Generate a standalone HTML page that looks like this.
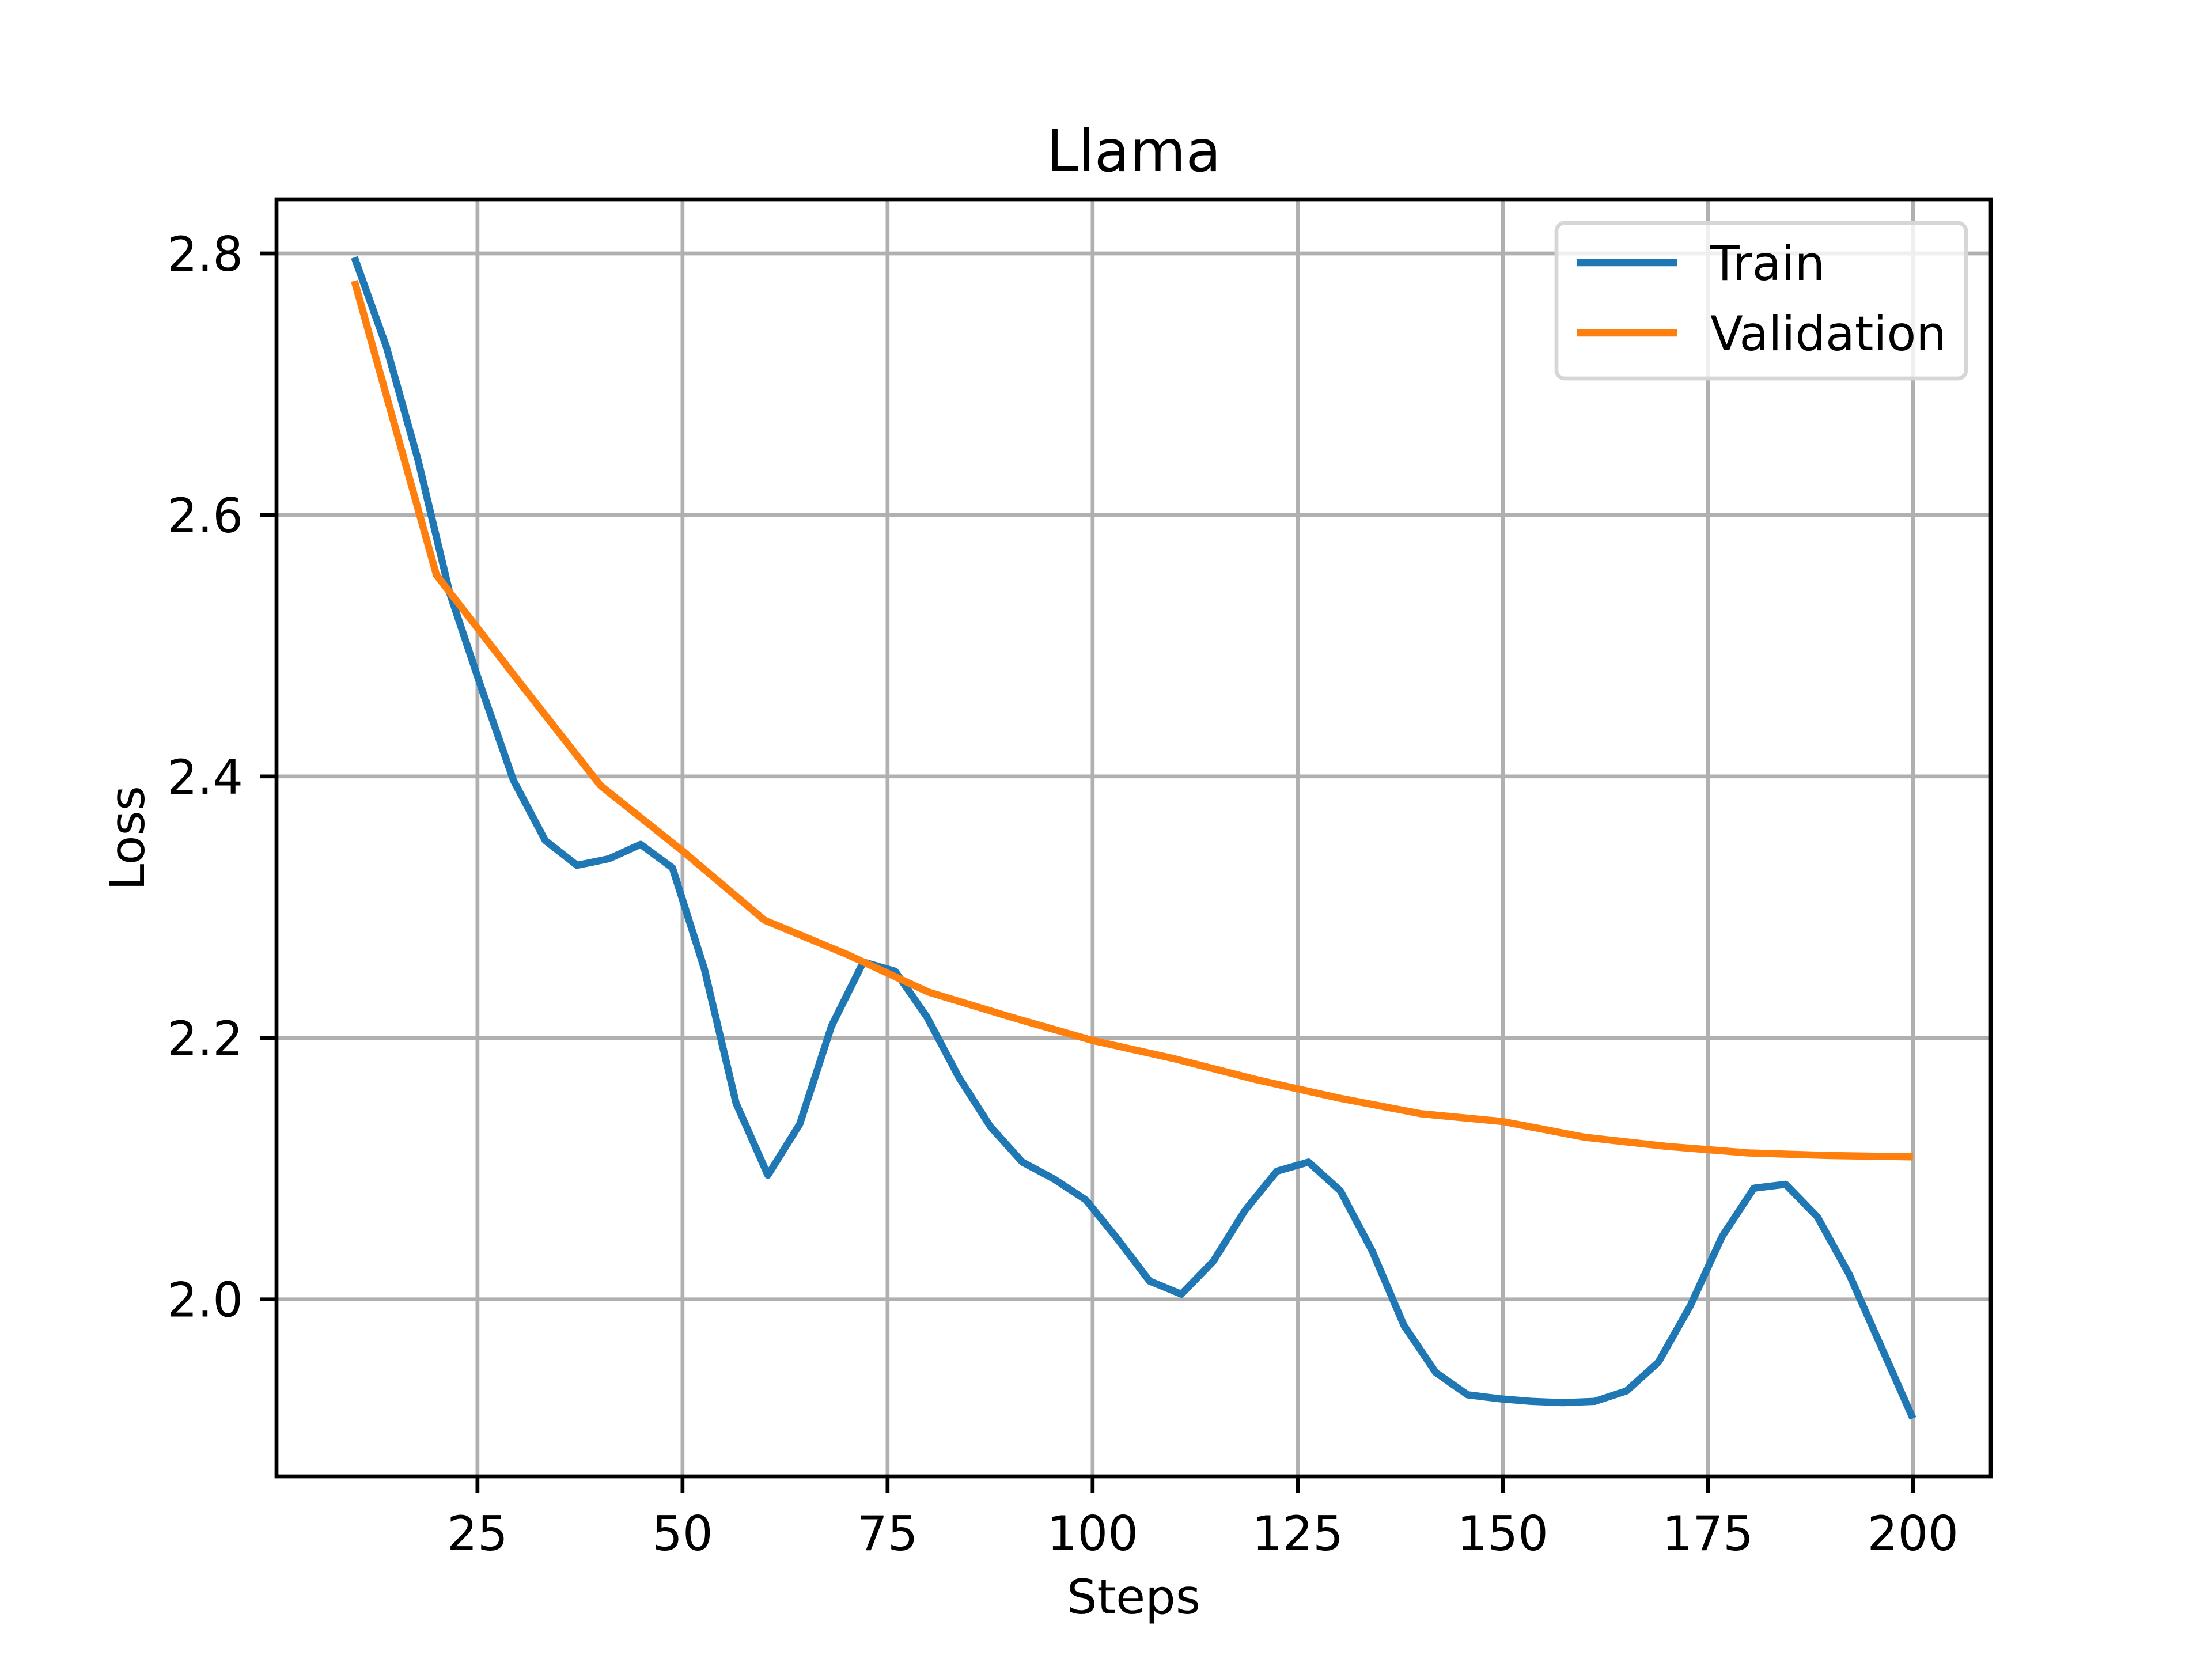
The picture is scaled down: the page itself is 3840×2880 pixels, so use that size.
<!DOCTYPE html>
<html><head><meta charset="utf-8"><style>
html,body{margin:0;padding:0;background:#fff;}
svg{display:block;font-family:"DejaVu Sans","Liberation Sans",sans-serif;}
</style></head><body>
<svg id="chart" width="3840" height="2880" viewBox="0 0 3840 2880" xmlns="http://www.w3.org/2000/svg">
<rect width="3840" height="2880" fill="#fff"/>
<g id="grid"></g>
<g id="series"></g>
<rect x="480" y="346" width="2976" height="2217" fill="none" stroke="#000" stroke-width="6.7"/>
<g id="ticks"></g>
<text x="1968" y="297" font-size="100" text-anchor="middle">Llama</text>
<text x="1968" y="2801" font-size="83" text-anchor="middle">Steps</text>
<text x="0" y="0" font-size="83" text-anchor="middle" transform="translate(250,1455) rotate(-90)">Loss</text>
<g>
<rect x="2702" y="387" width="711" height="270" rx="14" fill="#fff" fill-opacity="0.8" stroke="#d6d6d6" stroke-width="6.7"/>
<line x1="2737" y1="456" x2="2911" y2="456" stroke="#1f77b4" stroke-width="12.5"/>
<text x="2969" y="486" font-size="83">Train</text>
<line x1="2737" y1="578" x2="2911" y2="578" stroke="#ff7f0e" stroke-width="12.5"/>
<text x="2969" y="608" font-size="83">Validation</text>
</g>
</svg>
<script>
const trainY = [2.797,2.729,2.642,2.540,2.467,2.397,2.351,2.332,2.337,2.348,2.330,2.253,2.150,2.095,2.134,2.209,2.258,2.251,2.216,2.170,2.132,2.105,2.092,2.076,2.046,2.014,2.004,2.029,2.068,2.098,2.105,2.083,2.037,1.980,1.944,1.927,1.924,1.922,1.921,1.922,1.930,1.952,1.995,2.048,2.085,2.088,2.063,2.019,1.964,1.909];
const valSteps = [10,20,30,40,50,60,70,80,90,100,110,120,130,140,150,160,170,180,190,200];
const valY = [2.779,2.554,2.473,2.393,2.343,2.290,2.264,2.235,2.216,2.198,2.184,2.168,2.154,2.142,2.136,2.124,2.117,2.112,2.110,2.109];
const xTicks = [25,50,75,100,125,150,175,200];
const yTicks = [2.0,2.2,2.4,2.6,2.8];
const yTickLabels = ["2.0","2.2","2.4","2.6","2.8"];
const trainSteps = trainY.map((_, i) => 10 + i * 190 / (trainY.length - 1));

const L=480,R=3456,T=346,B=2563;
const allY = trainY.concat(valY);
const ymin0=Math.min(...allY), ymax0=Math.max(...allY), yr=ymax0-ymin0;
const ymin=ymin0-0.05*yr, ymax=ymax0+0.05*yr;
const xmin=10-9.5, xmax=200+9.5;
const sx=v=>L+(v-xmin)/(xmax-xmin)*(R-L);
const sy=v=>B-(v-ymin)/(ymax-ymin)*(B-T);
const NS="http://www.w3.org/2000/svg";
function mk(tag, parent, attrs){const e=document.createElementNS(NS,tag);for(const k in attrs)e.setAttribute(k,attrs[k]);parent.appendChild(e);return e;}
const grid=document.getElementById('grid'), ticks=document.getElementById('ticks'), series=document.getElementById('series');
xTicks.forEach(t=>{
  const x=sx(t);
  const g=mk('line',grid,{x1:x,y1:T,x2:x,y2:B,stroke:'#b0b0b0','stroke-width':6.7});
  
  
  const tk=mk('line',ticks,{x1:x,y1:B,x2:x,y2:B+29,stroke:'#000','stroke-width':6.7});
  
  
  const tx=mk('text',ticks,{x:x,y:B+128,'font-size':83,'text-anchor':'middle'});
  tx.textContent=t;
  
  
});
yTicks.forEach((t,i)=>{
  const y=sy(t);
  const g=mk('line',grid,{x1:L,y1:y,x2:R,y2:y,stroke:'#b0b0b0','stroke-width':6.7});
  
  
  const tk=mk('line',ticks,{x1:L-29,y1:y,x2:L,y2:y,stroke:'#000','stroke-width':6.7});
  
  
  const tx=mk('text',ticks,{x:L-58,y:y+30,'font-size':83,'text-anchor':'end'});
  tx.textContent=yTickLabels[i];
  
  
});
const tp=mk('polyline',series,{points:trainSteps.map((s,i)=>sx(s)+','+sy(trainY[i])).join(' '),fill:'none',stroke:'#1f77b4','stroke-width':12.5,'stroke-linejoin':'round'});


const vp=mk('polyline',series,{points:valSteps.map((s,i)=>sx(s)+','+sy(valY[i])).join(' '),fill:'none',stroke:'#ff7f0e','stroke-width':12.5,'stroke-linejoin':'round'});


</script>
</body></html>
